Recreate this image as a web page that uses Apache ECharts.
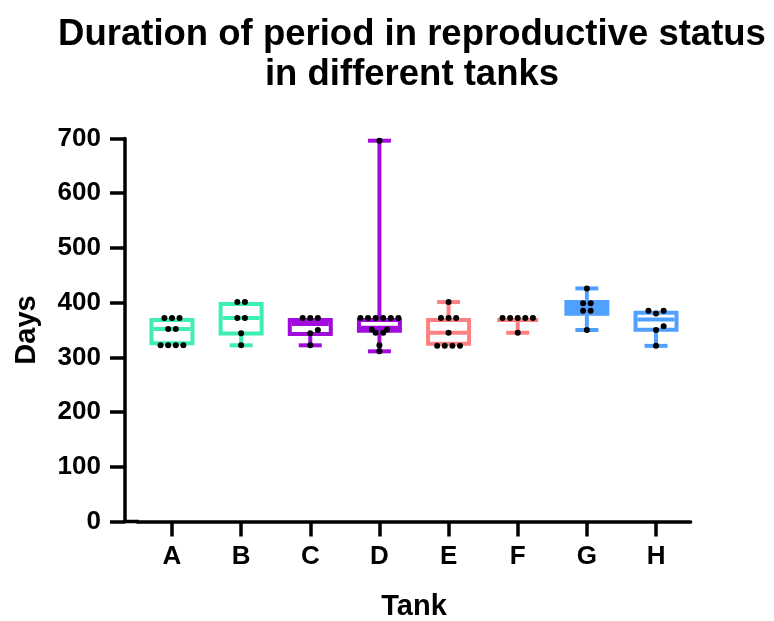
<!DOCTYPE html>
<html>
<head>
<meta charset="utf-8">
<script src="https://cdn.jsdelivr.net/npm/echarts@6/dist/echarts.min.js"></script>
<style>html,body{margin:0;padding:0;background:#fff}#chart{width:774px;height:621px}</style>
</head>
<body>
<div id="chart"></div>
<script>
// ---- data ----
const categories = ['A', 'B', 'C', 'D', 'E', 'F', 'G', 'H'];
const yTicks = [0, 100, 200, 300, 400, 500, 600, 700];

// individual observations (days)
const pointsA = [322, 322, 322, 322, 352, 352, 372, 372, 372];
const pointsB = [322, 344, 372, 372, 401, 401];
const pointsC = [322, 344, 350, 372, 372, 372];
const pointsD = [311, 322, 345, 345, 351, 351, 372, 372, 372, 372, 372, 372, 696];
const pointsE = [321, 321, 321, 321, 345, 372, 372, 372, 401];
const pointsF = [345, 372, 372, 372, 372, 372];
const pointsG = [350, 385, 385, 399, 399, 426];
const pointsH = [321, 350, 357, 380, 385, 385];

// box statistics per tank (min, Q1, median, Q3, max)
const boxMin    = [322, 322, 322, 311, 321, 345, 350, 321];
const boxQ1     = [322, 340, 339, 345, 321, 365, 376, 347];
const boxMedian = [352, 372, 361, 354, 345, 372, 392, 369];
const boxQ3     = [372, 401, 372, 372, 372, 372, 405, 385];
const boxMax    = [372, 401, 372, 696, 401, 372, 426, 385];

// ---- styles ----
const FONT = '"Liberation Sans", Arial, sans-serif';
const tankColors = ['#3DEFB0', '#3DEFB0', '#A30BDC', '#A30BDC', '#FF8080', '#FF8080', '#50A0FF', '#50A0FF'];
const boxFills = ['#fff', '#fff', '#fff', '#fff', '#fff', '#fff', '#50A0FF', '#fff'];
const pointsByTank = [pointsA, pointsB, pointsC, pointsD, pointsE, pointsF, pointsG, pointsH];

const AX_LW = 3.5, LW = 4, HALF_BOX = 22.5, HALF_CAP = 11.5, DOT_R = 3, DOT_STEP = 7.6, MIN_DIST = 5;

const boxData = categories.map((c, i) => [i, boxMin[i], boxQ1[i], boxMedian[i], boxQ3[i], boxMax[i]]);
const dotData = categories.map((c, i) => [i, boxMedian[i]]);

function renderBox(params, api) {
  const i = api.value(0);
  const p = (v) => api.coord([i, v]);
  const cx = p(0)[0];
  const yMin = p(api.value(1))[1], yQ1 = p(api.value(2))[1], yMed = p(api.value(3))[1];
  const yQ3 = p(api.value(4))[1], yMax = p(api.value(5))[1];
  const color = tankColors[i];
  const ls = { stroke: color, lineWidth: LW };
  const ch = [];
  if (yQ3 - yMax > 1) {
    ch.push({ type: 'line', shape: { x1: cx, y1: yQ3, x2: cx, y2: yMax }, style: ls });
    ch.push({ type: 'line', shape: { x1: cx - HALF_CAP, y1: yMax, x2: cx + HALF_CAP, y2: yMax }, style: ls });
  }
  if (yMin - yQ1 > 1) {
    ch.push({ type: 'line', shape: { x1: cx, y1: yQ1, x2: cx, y2: yMin }, style: ls });
    ch.push({ type: 'line', shape: { x1: cx - HALF_CAP, y1: yMin, x2: cx + HALF_CAP, y2: yMin }, style: ls });
  }
  const top = yQ3 + LW / 2, bot = Math.max(yQ1 - LW / 2, top);
  ch.push({ type: 'rect', shape: { x: cx - HALF_BOX + LW / 2, y: top, width: 2 * HALF_BOX - LW, height: bot - top },
            style: { fill: boxFills[i], stroke: color, lineWidth: LW } });
  const ym = Math.min(Math.max(yMed, top), bot);
  ch.push({ type: 'line', shape: { x1: cx - HALF_BOX + LW, y1: ym, x2: cx + HALF_BOX - LW, y2: ym }, style: ls });
  return { type: 'group', children: ch };
}

function swarm(ys) {
  const rows = [];
  ys.forEach((y) => {
    const r = rows[rows.length - 1];
    if (r && Math.abs(r[0] - y) < 2) r.push(y); else rows.push([y]);
  });
  const placed = [];
  rows.forEach((r) => {
    const n = r.length;
    const cands = [];
    [DOT_STEP, 2 * DOT_STEP].forEach((sp) => cands.push(r.map((y, k) => (k - (n - 1) / 2) * sp)));
    for (let sh = 1; sh <= 4; sh++) {
      cands.push(r.map((y, k) => (k - (n - 1) / 2) * DOT_STEP + sh * DOT_STEP));
      cands.push(r.map((y, k) => (k - (n - 1) / 2) * DOT_STEP - sh * DOT_STEP));
    }
    let chosen = cands[0];
    for (const c of cands) {
      const ok = c.every((dx, k) => placed.every((q) => Math.hypot(q.dx - dx, q.y - r[k]) >= MIN_DIST));
      if (ok) { chosen = c; break; }
    }
    r.forEach((y, k) => placed.push({ dx: chosen[k], y: y }));
  });
  return placed;
}

function renderDots(params, api) {
  const i = api.value(0);
  const vals = pointsByTank[i].slice().sort((a, b) => a - b);
  const cx = api.coord([i, 0])[0];
  const ys = vals.map((v) => api.coord([i, v])[1]);
  const placed = swarm(ys);
  return { type: 'group', children: placed.map((q) => ({
    type: 'circle', shape: { cx: cx + q.dx, cy: q.y, r: DOT_R }, style: { fill: '#000' } })) };
}

const chart = echarts.init(document.getElementById('chart'), null, { renderer: 'canvas' });
chart.setOption({
  backgroundColor: '#fff',
  animation: false,
  title: {
    text: 'Duration of period in reproductive status\nin different tanks',
    left: 407, top: 10, textAlign: 'center',
    textStyle: { fontFamily: FONT, fontSize: 36.5, fontWeight: 'bold', lineHeight: 40, color: '#000' }
  },
  grid: { left: 137.4, right: 83.4, top: 138.5, bottom: 99.5, outerBoundsMode: 'none', containLabel: false },
  xAxis: {
    type: 'category', data: categories,
    axisLine: { show: true, lineStyle: { color: '#000', width: AX_LW } },
    axisTick: { show: true, alignWithLabel: true, length: 15, lineStyle: { color: '#000', width: AX_LW } },
    axisLabel: { fontFamily: FONT, fontSize: 26, fontWeight: 'bold', color: '#000', margin: 22 },
    name: 'Tank', nameLocation: 'middle', nameGap: 71,
    nameTextStyle: { fontFamily: FONT, fontSize: 29, fontWeight: 'bold', color: '#000' },
    splitLine: { show: false }
  },
  yAxis: {
    type: 'value', min: yTicks[0], max: yTicks[yTicks.length - 1], interval: 100, offset: 12.4,
    axisLine: { show: true, lineStyle: { color: '#000', width: AX_LW } },
    axisTick: { show: true, length: 15, lineStyle: { color: '#000', width: AX_LW } },
    axisLabel: { fontFamily: FONT, fontSize: 26, fontWeight: 'bold', color: '#000', margin: 24 },
    splitLine: { show: false },
    name: 'Days', nameLocation: 'middle', nameGap: 84, nameRotate: 90,
    nameTextStyle: { fontFamily: FONT, fontSize: 29, fontWeight: 'bold', color: '#000' }
  },
  graphic: [{
    type: 'line', shape: { x1: 124, y1: 521.5, x2: 139, y2: 521.5 },
    style: { stroke: '#000', lineWidth: AX_LW }, z: 10
  }],
  series: [
    { type: 'custom', name: 'boxes', renderItem: renderBox, data: boxData,
      encode: { x: 0, y: [1, 2, 3, 4, 5] }, z: 2 },
    { type: 'custom', name: 'points', renderItem: renderDots, data: dotData,
      encode: { x: 0, y: 1 }, z: 3 }
  ]
});
</script>
</body>
</html>
